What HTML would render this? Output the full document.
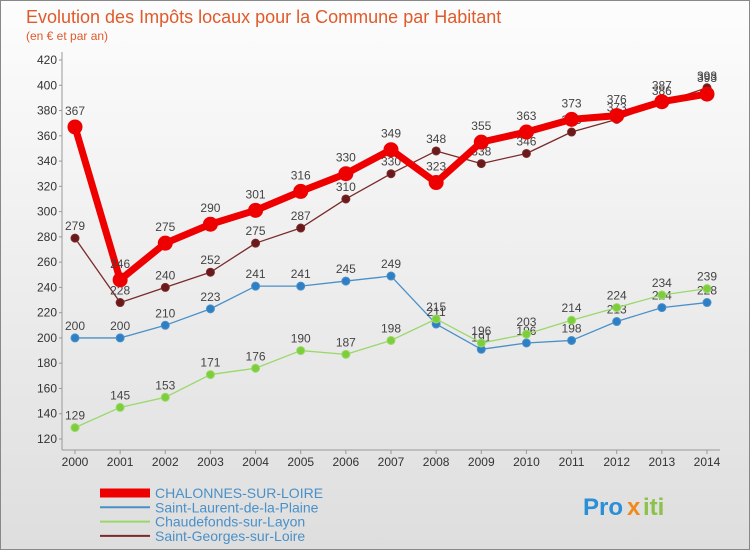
<!DOCTYPE html>
<html><head><meta charset="utf-8"><style>
body{margin:0;width:750px;height:550px;overflow:hidden;font-family:"Liberation Sans",sans-serif}
</style></head><body>
<svg id="c" width="750" height="550" xmlns="http://www.w3.org/2000/svg">
<defs><linearGradient id="bg" x1="0" y1="0" x2="0" y2="1"><stop offset="0" stop-color="#fdfdfd"/><stop offset="1" stop-color="#dedede"/></linearGradient></defs>
<rect x="0.5" y="0.5" width="749" height="549" fill="url(#bg)" stroke="#888"/>
<text x="26" y="23" font-size="18" fill="#e05a2a">Evolution des Impôts locaux pour la Commune par Habitant</text>
<text x="26" y="40" font-size="12" fill="#e05a2a">(en € et par an)</text>
<g id="axes"></g><g id="series"></g><g id="legend"></g>
<g font-size="24" font-weight="bold">
<text x="583" y="515" fill="#2a8fd6">Pro</text><text x="627" y="515" fill="#f08a1c">x</text><text x="643" y="515" fill="#8bc34a">iti</text>
</g>
</svg>
<script>
const years=[2000,2001,2002,2003,2004,2005,2006,2007,2008,2009,2010,2011,2012,2013,2014];
const yTicks=[120,140,160,180,200,220,240,260,280,300,320,340,360,380,400,420];
const chalonnes=[367,246,275,290,301,316,330,349,323,355,363,373,376,387,393];
const laurent=[200,200,210,223,241,241,245,249,211,191,196,198,213,224,228];
const chaudefonds=[129,145,153,171,176,190,187,198,215,196,203,214,224,234,239];
const georges=[279,228,240,252,275,287,310,330,348,338,346,363,373,386,398];
const names=["CHALONNES-SUR-LOIRE","Saint-Laurent-de-la-Plaine","Chaudefonds-sur-Layon","Saint-Georges-sur-Loire"];
const NS="http://www.w3.org/2000/svg";
const X=i=>75+i*(707-75)/(years.length-1);
const Y=v=>60+(420-v)*(439-60)/300;
function mk(t,a,p){const e=document.createElementNS(NS,t);for(const k in a)e.setAttribute(k,a[k]);p.appendChild(e);return e;}
const ax=document.getElementById('axes');
mk('line',{x1:62,y1:52,x2:62,y2:450,stroke:'#999'},ax);
mk('line',{x1:62,y1:450,x2:720,y2:450,stroke:'#999'},ax);
yTicks.forEach(v=>{const t=mk('text',{x:57,y:Y(v)+4,'text-anchor':'end','font-size':12,fill:'#333'},ax);t.textContent=v;


mk('line',{x1:59,y1:Y(v),x2:62,y2:Y(v),stroke:'#999'},ax);});
years.forEach((y,i)=>{const t=mk('text',{x:X(i),y:466,'text-anchor':'middle','font-size':12,fill:'#333'},ax);t.textContent=y;


mk('line',{x1:X(i),y1:450,x2:X(i),y2:454,stroke:'#999'},ax);});
const sr=document.getElementById('series');
const defs=[[laurent,'#4a90c8',1.3,4,'#2e7fc4',8],[chaudefonds,'#9ad86a',1.3,4,'#7ccf3a',8],[georges,'#7a2a2a',1.3,4,'#6a1a1a',8],[chalonnes,'#ee0000',7,7,'#ee0000',12]];
const order=[1,2,3,0];
defs.forEach((d,k)=>{const [vals,col,w,r,dc,off]=d;const g=mk('g',{},sr);


mk('polyline',{points:vals.map((v,i)=>X(i)+','+Y(v)).join(' '),fill:'none',stroke:col,'stroke-width':w,'stroke-linejoin':'round'},g);
vals.forEach((v,i)=>{const c=mk('circle',{cx:X(i),cy:Y(v),r:r,fill:dc,stroke:col,'stroke-width':1},g);


const t=mk('text',{x:X(i),y:Y(v)-off,'text-anchor':'middle','font-size':12,fill:'#444'},g);t.textContent=v;

});});
const lg=document.getElementById('legend');
const lc=['#ee0000','#4a90c8','#9ad86a','#7a2a2a'],lw=[9,2,2,2];
names.forEach((n,i)=>{const y=498+i*14.3;const g=mk('g',{},lg);


mk('line',{x1:100,y1:y-5,x2:150,y2:y-5,stroke:lc[i],'stroke-width':lw[i]},g);
const t=mk('text',{x:155,y:y,'font-size':14,fill:'#4a90c8'},g);t.textContent=n;});
</script>
</body></html>
